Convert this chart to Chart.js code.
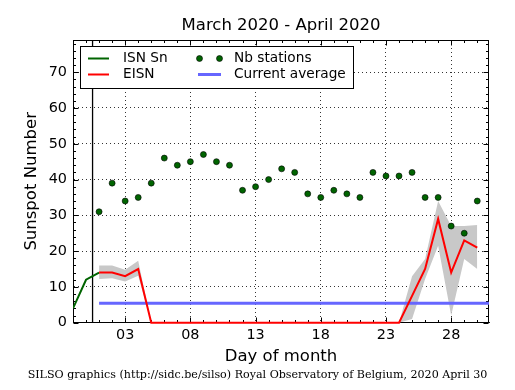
<!DOCTYPE html>
<html>
<head>
<meta charset="utf-8">
<script src="https://cdn.jsdelivr.net/npm/chart.js@4.4.0/dist/chart.umd.min.js"></script>
<style>
  html, body { margin: 0; padding: 0; background: #fff; }
  canvas { display: block; }
</style>
</head>
<body>
<canvas id="chart" width="515" height="390"></canvas>
<script>
// ISN Sn (end of previous month)
const isnDays = [-1, 0, 1];
const isnValues = [4, 12, 14];

// days of April
const days = [1, 2, 3, 4, 5, 6, 7, 8, 9, 10, 11, 12, 13, 14, 15, 16, 17, 18, 19, 20, 21, 22, 23, 24, 25, 26, 27, 28, 29, 30];
const eisnValues = [14, 14, 13, 15, 0, 0, 0, 0, 0, 0, 0, 0, 0, 0, 0, 0, 0, 0, 0, 0, 0, 0, 0, 0, 7.5, 15, 29, 14, 23, 21];
const eisnUpper = [16, 16, 14.8, 17.3, 0, 0, 0, 0, 0, 0, 0, 0, 0, 0, 0, 0, 0, 0, 0, 0, 0, 0, 0, 0, 13, 17.8, 34, 27, 27, 27.3];
const eisnLower = [12.2, 12.4, 11.5, 13.1, 0, 0, 0, 0, 0, 0, 0, 0, 0, 0, 0, 0, 0, 0, 0, 0, 0, 0, 0, 0, 1, 12.2, 21.5, 2, 17.8, 15];
const nbStations = [31, 39, 34, 35, 39, 46, 44, 45, 47, 45, 44, 37, 38, 40, 43, 42, 36, 35, 37, 36, 35, 42, 41, 41, 42, 35, 35, 27, 25, 34];

const avgDays = [1, 31];
const currentAverage = 5.4;
const monthBoundary = 0.5;

const xTickValues = [3, 8, 13, 18, 23, 28];
const xTickLabels = ['03', '08', '13', '18', '23', '28'];
const yTickValues = [0, 10, 20, 30, 40, 50, 60, 70];

const pts = (xs, ys) => xs.map((x, i) => ({ x: x, y: ys[i] }));

const sans = 'DejaVu Sans';

const frame = {
  id: 'frame',
  beforeDatasetsDraw(chart) {
    const { ctx, chartArea: a, scales: { x, y } } = chart;
    ctx.save();
    ctx.strokeStyle = '#000';
    ctx.lineWidth = 1;
    const L = Math.round(a.left) + 0.5, R = Math.round(a.right) - 0.5;
    const T = Math.round(a.top) + 0.5, B = Math.round(a.bottom) - 0.5;
    ctx.strokeRect(L, T, R - L, B - T);

    // inward ticks
    ctx.beginPath();
    for (let d = Math.ceil(x.min); d <= Math.floor(x.max); d++) {
      const px = Math.round(x.getPixelForValue(d)) + 0.5;
      const len = xTickValues.includes(d) ? 5 : 2.5;
      ctx.moveTo(px, B); ctx.lineTo(px, B - len);
      ctx.moveTo(px, T); ctx.lineTo(px, T + len);
    }
    for (let v = 0; v <= y.max; v += 2) {
      const py = Math.round(y.getPixelForValue(v)) + 0.5;
      const len = v % 10 === 0 ? 5 : 2.5;
      ctx.moveTo(L, py); ctx.lineTo(L + len, py);
      ctx.moveTo(R, py); ctx.lineTo(R - len, py);
    }
    ctx.stroke();
    ctx.restore();
  },
  afterDraw(chart) {
    const { ctx } = chart;
    ctx.save();
    // legend
    ctx.strokeStyle = '#000';
    ctx.lineWidth = 1;
    ctx.fillStyle = '#fff';
    ctx.fillRect(80, 46, 273, 42);
    ctx.strokeRect(80.5, 46.5, 273, 42);
    ctx.font = '13.7px "' + sans + '"';
    ctx.textBaseline = 'middle';
    const r1 = 58.5, r2 = 74.5;
    ctx.lineWidth = 2;
    ctx.strokeStyle = '#006400';
    ctx.beginPath(); ctx.moveTo(88, r1); ctx.lineTo(109, r1); ctx.stroke();
    ctx.strokeStyle = '#ff0000';
    ctx.beginPath(); ctx.moveTo(88, r2); ctx.lineTo(109, r2); ctx.stroke();
    ctx.lineWidth = 3;
    ctx.strokeStyle = '#6666ff';
    ctx.beginPath(); ctx.moveTo(198, r2); ctx.lineTo(221, r2); ctx.stroke();
    ctx.lineWidth = 0.6;
    ctx.strokeStyle = '#000';
    [199.5, 219.5].forEach(cx => {
      ctx.beginPath(); ctx.arc(cx, r1, 3, 0, Math.PI * 2);
      ctx.fillStyle = '#006400'; ctx.fill(); ctx.stroke();
    });
    ctx.fillStyle = '#000';
    ctx.fillText('ISN Sn', 123, r1);
    ctx.fillText('EISN', 123, r2);
    ctx.fillText('Nb stations', 234, r1);
    ctx.fillText('Current average', 234, r2);
    ctx.restore();
  }
};

new Chart(document.getElementById('chart'), {
  type: 'line',
  data: {
    datasets: [
      {
        label: 'Nb stations', data: pts(days, nbStations), showLine: false,
        pointRadius: 3, pointBackgroundColor: '#006400', pointBorderColor: '#000', pointBorderWidth: 0.6
      },
      {
        label: 'EISN', data: pts(days, eisnValues), borderColor: '#ff0000', borderWidth: 2,
        pointRadius: 0, clip: false
      },
      {
        label: 'ISN Sn', data: pts(isnDays, isnValues), borderColor: '#006400', borderWidth: 2,
        pointRadius: 0
      },
      {
        label: 'Current average', data: pts(avgDays, [currentAverage, currentAverage]),
        borderColor: '#6666ff', borderWidth: 3, pointRadius: 0
      },
      {
        label: 'boundary', data: [{ x: monthBoundary, y: 0 }, { x: monthBoundary, y: 79 }],
        borderColor: '#000', borderWidth: 1.3, pointRadius: 0
      },
      {
        label: 'upper', data: pts(days, eisnUpper), borderWidth: 0, pointRadius: 0,
        backgroundColor: '#c8c8c8', fill: '+1'
      },
      {
        label: 'lower', data: pts(days, eisnLower), borderWidth: 0, pointRadius: 0
      }
    ]
  },
  options: {
    responsive: false,
    animation: false,
    events: [],
    layout: { padding: 0 },
    plugins: {
      legend: { display: false },
      tooltip: { enabled: false },
      title: {
        display: true, text: 'March 2020 - April 2020', fullSize: false, color: '#000',
        font: { family: sans, size: 16.5, weight: 'normal' }, padding: { top: 16, bottom: 4.2 }
      },
      subtitle: {
        display: true, position: 'bottom', color: '#000',
        text: 'SILSO graphics (http://sidc.be/silso) Royal Observatory of Belgium, 2020 April 30',
        font: { family: 'DejaVu Serif', size: 11.1 }, padding: { top: 0, bottom: 8 }
      }
    },
    scales: {
      x: {
        type: 'linear', min: -1, max: 30.9,
        afterFit: s => { s.height = 46; },
        afterBuildTicks: s => { s.ticks = xTickValues.map(v => ({ value: v })); },
        ticks: {
          color: '#000', padding: 4, maxRotation: 0, autoSkip: false,
          font: { family: sans, size: 14.4 },
          callback: (v, i) => xTickLabels[i]
        },
        grid: { color: '#000', lineWidth: 0.8, drawTicks: false },
        border: { display: true, color: '#000', width: 1, dash: [1, 3] },
        title: {
          display: true, text: 'Day of month', color: '#000',
          font: { family: sans, size: 16.5 }, padding: { top: 0, bottom: 2.5 }
        }
      },
      y: {
        min: 0, max: 79,
        afterFit: s => { s.width = 73; },
        afterBuildTicks: s => { s.ticks = yTickValues.map(v => ({ value: v })); },
        ticks: { color: '#000', padding: 6, font: { family: sans, size: 14.4 } },
        grid: { color: '#000', lineWidth: 0.8, drawTicks: false },
        border: { display: true, color: '#000', width: 1, dash: [1, 3] },
        title: {
          display: true, text: 'Sunspot Number', color: '#000',
          font: { family: sans, size: 16.5 }, padding: { top: 21.8, bottom: 0 }
        }
      },
      yRight: {
        position: 'right', min: 0, max: 79,
        afterFit: s => { s.width = 26; },
        ticks: { display: false },
        grid: { display: false },
        border: { display: false }
      }
    }
  },
  plugins: [frame]
});
</script>
</body>
</html>
